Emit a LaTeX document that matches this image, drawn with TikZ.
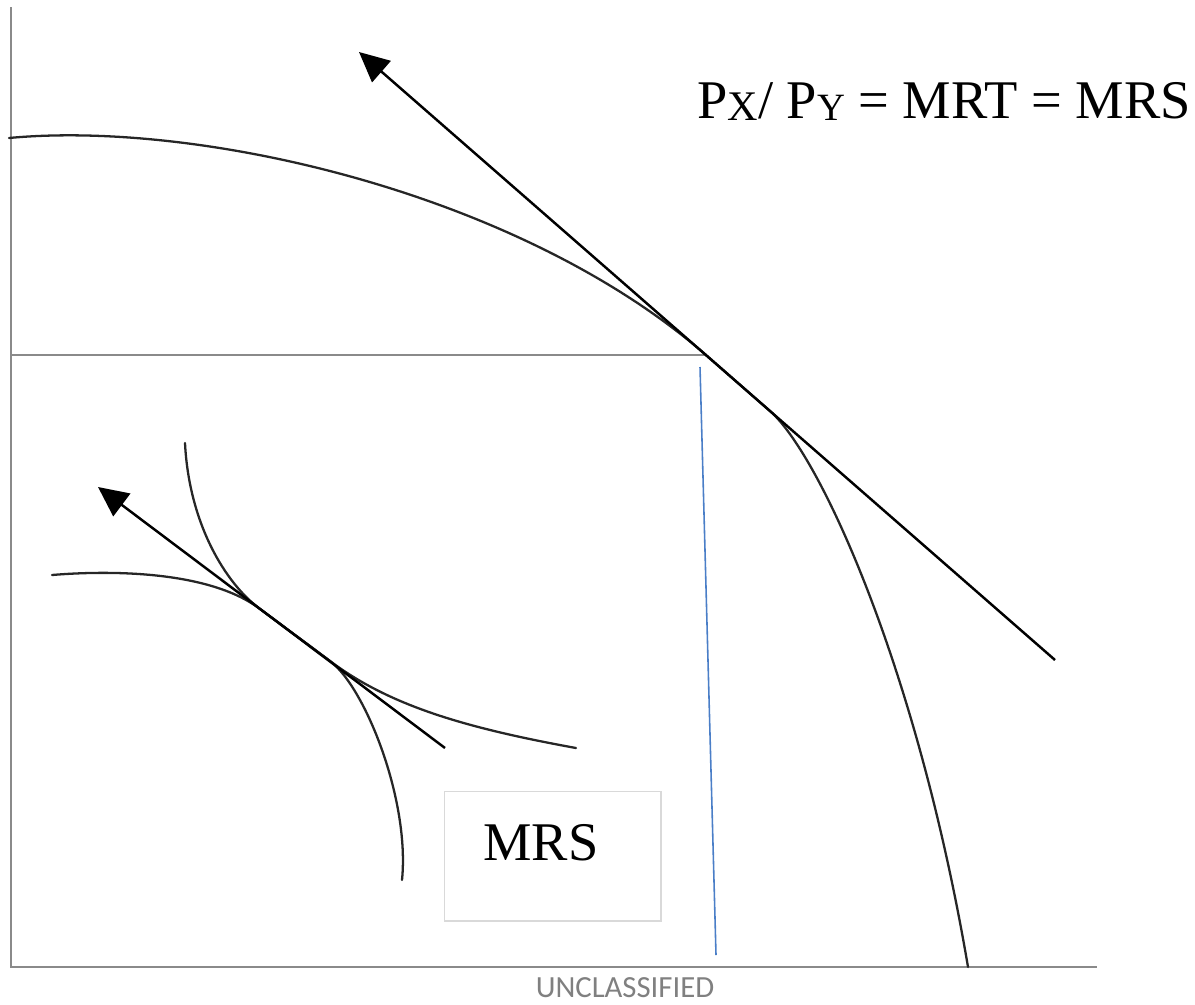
\documentclass[tikz,border=0pt]{standalone}
\usepackage{fontspec}
\setmainfont{Liberation Serif}
\newfontfamily\uncfont{Carlito}
\usetikzlibrary{arrows.meta}
\definecolor{axisgray}{HTML}{8A8A8A}
\definecolor{bluel}{HTML}{4A7EC7}
\definecolor{boxgray}{HTML}{D9D9D9}
\definecolor{uncgray}{HTML}{808080}
\begin{document}
\begin{tikzpicture}[x=0.02cm,y=-0.02cm,
  curve/.style={line width=1.3pt, black!85, line cap=round},
  axisline/.style={line width=1.1pt, axisgray},
  arrowline/.style={line width=1.4pt, black, -{Triangle[length=17pt,width=16pt]}},
  bigtext/.style={font=\fontsize{31}{37}\selectfont, inner sep=0pt}]
\useasboundingbox (0,0) rectangle (1195,1004);
% axes
\coordinate (Ytop) at (11,7);
\coordinate (O) at (11,967);
\coordinate (Xend) at (1097,967);
\draw[axisline] (Ytop) -- (O) -- (Xend);
% horizontal guide
\coordinate (Hl) at (11,355);
\coordinate (T) at (706,355);
\draw[axisline] (Hl) -- (T);
% blue vertical guide
\coordinate (B1) at (700,367);
\coordinate (B2) at (716,955);
\draw[bluel, line width=0.9pt] (B1) -- (B2);
% production possibility frontier
\coordinate (P0) at (9,138);
\coordinate (P1) at (770,411);
\coordinate (P2) at (968,967);
\draw[curve] (P0) .. controls (200,120) and (520,193) .. (T)
  -- (P1) .. controls (820,455) and (917,667) .. (P2);
% big tangent (price line)
\coordinate (L1) at (1055,660);
\coordinate (L2) at (359,52);
\draw[arrowline] (L1) -- (L2);
% consumer tangency segment ends
\coordinate (C1) at (260,609);
\coordinate (C2) at (330,661);
% indifference curve (flat)
\coordinate (F0) at (52,575);
\coordinate (F1) at (576,748);
\draw[curve] (F0) .. controls (112,570) and (210,571) .. (C1)
  -- (C2) .. controls (390,706) and (466,728) .. (F1);
% indifference curve (steep)
\coordinate (G0) at (185,443);
\coordinate (G1) at (402,880);
\draw[curve] (G0) .. controls (189,523) and (225,583) .. (C1)
  -- (C2) .. controls (365,687) and (410,800) .. (G1);
% small tangent
\coordinate (S1) at (445,748);
\coordinate (S2) at (98,487);
\draw[arrowline] (S1) -- (S2);
% labels
\node[bigtext, anchor=base west] (lbl) at (697,118)
  {P\raisebox{-1.7pt}{\fontsize{24}{24}\selectfont X}/ P\raisebox{-1.7pt}{\fontsize{22}{22}\selectfont Y} = MRT = MRS};
\node[draw=boxgray, line width=0.6pt, minimum width=4.34cm, minimum height=2.6cm, inner sep=0pt] (box) at (552.5,856) {};
\node[bigtext, anchor=base west] (mrs) at (483,860) {MRS};
\node[font=\uncfont\fontsize{17.5}{20}\selectfont, text=uncgray, inner sep=0pt] (unc) at (625,988) {UNCLASSIFIED};
\end{tikzpicture}
\end{document}
